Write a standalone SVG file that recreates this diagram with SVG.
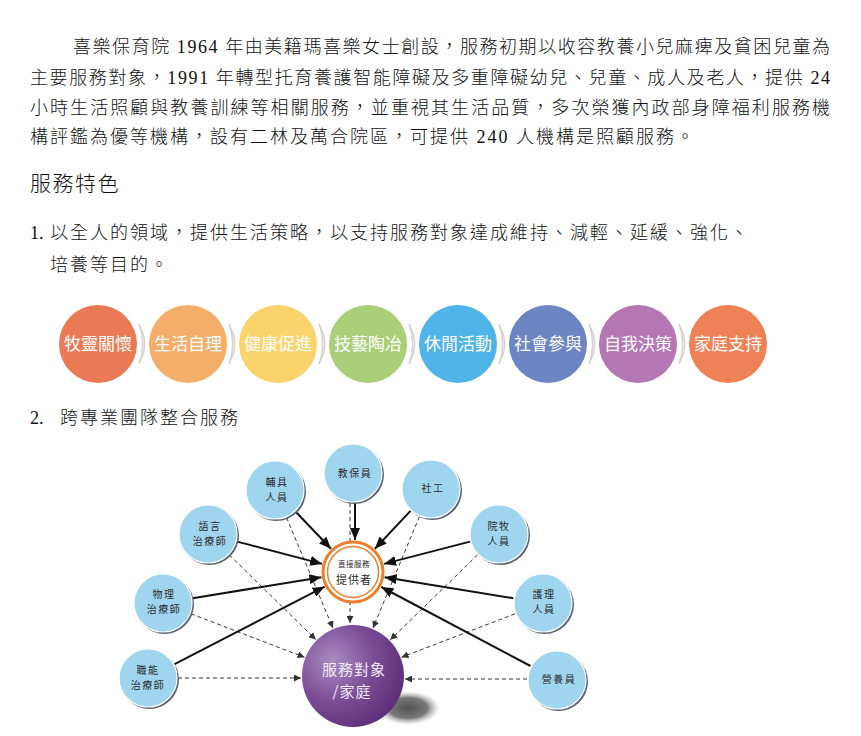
<svg xmlns="http://www.w3.org/2000/svg" width="861" height="736" viewBox="0 0 861 736">
<style>
.para{font-family:"Liberation Serif","Noto Sans CJK TC",serif;font-size:18px;fill:#111;font-weight:300}
.sp{letter-spacing:2px}
.pill{font-family:"Noto Sans CJK TC",sans-serif;font-size:17px;fill:#fff;text-anchor:middle}
.nd{fill:#a0d5ef;stroke:#fff;stroke-width:1.2}
.ndsh{fill:#5a6675}
.nt{font-family:"Noto Sans CJK TC",serif;font-size:10px;fill:#2b2b2b;text-anchor:middle;letter-spacing:1.5px}
.solid{stroke:#111;stroke-width:2;fill:none}
.dash{stroke:#333;stroke-width:1;fill:none;stroke-dasharray:4 3}
.chev{fill:#e6e6e6;stroke:#c4c4c4;stroke-width:0.8}
</style>
<defs>
<marker id="ah" markerUnits="userSpaceOnUse" markerWidth="13" markerHeight="10" refX="12" refY="5" orient="auto"><path d="M0,0 L12,5 L0,10 Z" fill="#111"/></marker>
<marker id="ahs" markerUnits="userSpaceOnUse" markerWidth="8" markerHeight="7" refX="7" refY="3.5" orient="auto"><path d="M0,0 L7,3.5 L0,7 Z" fill="#333"/></marker>
<radialGradient id="sph" cx="0.3" cy="0.35" r="0.8"><stop offset="0" stop-color="#a98bbf"/><stop offset="0.5" stop-color="#7b4d97"/><stop offset="1" stop-color="#5a2a74"/></radialGradient>
<radialGradient id="shd" cx="0.5" cy="0.5" r="0.5"><stop offset="0" stop-color="#555"/><stop offset="0.6" stop-color="#777"/><stop offset="1" stop-color="#bbb" stop-opacity="0"/></radialGradient>
</defs>
<rect width="861" height="736" fill="#fff"/>

<g id="intro">
<text class="para" x="73" y="53" textLength="757" lengthAdjust="spacing">喜樂保育院 1964 年由美籍瑪喜樂女士創設，服務初期以收容教養小兒麻痺及貧困兒童為</text>
<text class="para" x="30" y="84" textLength="800" lengthAdjust="spacing">主要服務對象，1991 年轉型托育養護智能障礙及多重障礙幼兒、兒童、成人及老人，提供 24</text>
<text class="para" x="30" y="114" textLength="800" lengthAdjust="spacing">小時生活照顧與教養訓練等相關服務，並重視其生活品質，多次榮獲內政部身障福利服務機</text>
<text class="para sp" x="30" y="143">構評鑑為優等機構，設有二林及萬合院區，可提供 240 人機構是照顧服務。</text>
<text class="para" x="30" y="191" style="font-size:21px;letter-spacing:1.5px">服務特色</text>
<text class="para" x="30" y="239">1.</text>
<text class="para sp" x="50" y="239">以全人的領域，提供生活策略，以支持服務對象達成維持、減輕、延緩、強化、</text>
<text class="para sp" x="50" y="271">培養等目的。</text>
<text class="para" x="30" y="424">2.</text>
<text class="para sp" x="60" y="424">跨專業團隊整合服務</text>
</g>

<g id="features">
<g id="f1"><circle cx="98" cy="344" r="39" fill="#ea7a55"/><text class="pill" x="98" y="350">牧靈關懷</text></g>
<path class="chev" d="M139,324 Q151,344 139,364 Q146,344 139,324 Z"/>
<g id="f2"><circle cx="188" cy="344" r="39" fill="#f4ae6a"/><text class="pill" x="188" y="350">生活自理</text></g>
<path class="chev" d="M229,324 Q241,344 229,364 Q236,344 229,324 Z"/>
<g id="f3"><circle cx="278" cy="344" r="39" fill="#fbd36c"/><text class="pill" x="278" y="350">健康促進</text></g>
<path class="chev" d="M319,324 Q331,344 319,364 Q326,344 319,324 Z"/>
<g id="f4"><circle cx="368" cy="344" r="39" fill="#a9cf78"/><text class="pill" x="368" y="350">技藝陶冶</text></g>
<path class="chev" d="M409,324 Q421,344 409,364 Q416,344 409,324 Z"/>
<g id="f5"><circle cx="458" cy="344" r="39" fill="#4fb4e8"/><text class="pill" x="458" y="350">休閒活動</text></g>
<path class="chev" d="M499,324 Q511,344 499,364 Q506,344 499,324 Z"/>
<g id="f6"><circle cx="548" cy="344" r="39" fill="#6d86c3"/><text class="pill" x="548" y="350">社會參與</text></g>
<path class="chev" d="M589,324 Q601,344 589,364 Q596,344 589,324 Z"/>
<g id="f7"><circle cx="638" cy="344" r="39" fill="#b476b5"/><text class="pill" x="638" y="350">自我決策</text></g>
<path class="chev" d="M679,324 Q691,344 679,364 Q686,344 679,324 Z"/>
<g id="f8"><circle cx="728" cy="344" r="39" fill="#ee8155"/><text class="pill" x="728" y="350">家庭支持</text></g>
</g>

<g id="connectors">
<line class="dash" x1="350" y1="503" x2="350" y2="623" marker-end="url(#ahs)"/>
<line class="dash" x1="286.6" y1="517.7" x2="332.9" y2="628.1" marker-end="url(#ahs)"/>
<line class="dash" x1="419.4" y1="516.7" x2="373" y2="628" marker-end="url(#ahs)"/>
<line class="dash" x1="229.4" y1="555" x2="315.8" y2="639.6" marker-end="url(#ahs)"/>
<line class="dash" x1="477.5" y1="554.9" x2="390.3" y2="639.8" marker-end="url(#ahs)"/>
<line class="dash" x1="191" y1="613.8" x2="304.5" y2="657.3" marker-end="url(#ahs)"/>
<line class="dash" x1="515" y1="613.8" x2="401.5" y2="657.3" marker-end="url(#ahs)"/>
<line class="dash" x1="178" y1="678" x2="301" y2="678" marker-end="url(#ahs)"/>
<line class="dash" x1="527" y1="679" x2="405" y2="679" marker-end="url(#ahs)"/>
<line class="solid" x1="355" y1="503" x2="355" y2="540" marker-end="url(#ah)"/>
<line class="solid" x1="295.7" y1="511.7" x2="331" y2="548.8" marker-end="url(#ah)"/>
<line class="solid" x1="410.5" y1="510.9" x2="374.9" y2="548.7" marker-end="url(#ah)"/>
<line class="solid" x1="237" y1="541.6" x2="322.1" y2="563.9" marker-end="url(#ah)"/>
<line class="solid" x1="470" y1="541.6" x2="384" y2="563.9" marker-end="url(#ah)"/>
<line class="solid" x1="192.6" y1="598.2" x2="321.4" y2="577.2" marker-end="url(#ah)"/>
<line class="solid" x1="513.4" y1="598.2" x2="384.6" y2="577.2" marker-end="url(#ah)"/>
<line class="solid" x1="174.6" y1="664.2" x2="324.6" y2="586.7" marker-end="url(#ah)"/>
<line class="solid" x1="530.5" y1="666" x2="381.3" y2="587" marker-end="url(#ah)"/>
</g>

<g id="provider">
<circle cx="353" cy="572" r="30" fill="#fff" stroke="#ee7d2c" stroke-width="3"/>
<circle cx="353" cy="572" r="25.5" fill="none" stroke="#ee7d2c" stroke-width="1.5"/>
<text class="nt" x="354" y="567" style="font-size:7.5px;letter-spacing:0.5px">直接服務</text>
<text class="nt" x="354" y="584" style="font-size:11px;letter-spacing:1px">提供者</text>
</g>

<g id="client">
<ellipse cx="408" cy="708" rx="32" ry="17" fill="url(#shd)"/>
<circle cx="353" cy="676" r="51" fill="url(#sph)"/>
<text class="nt" x="354" y="675" style="font-size:15px;fill:#f3eaf6;letter-spacing:1px">服務對象</text>
<text class="nt" x="352" y="697" style="font-size:15px;fill:#f3eaf6;letter-spacing:1px">/家庭</text>
</g>

<g id="n-jiaobao"><circle class="ndsh" cx="354.5" cy="474.5" r="29.5"/><circle class="nd" cx="353" cy="473" r="29"/><text class="nt" x="355" y="477">教保員</text></g>
<g id="n-fuju"><circle class="ndsh" cx="276.5" cy="491.5" r="29.5"/><circle class="nd" cx="275" cy="490" r="29"/><text class="nt" x="277" y="486">輔具</text><text class="nt" x="277" y="501">人員</text></g>
<g id="n-shegong"><circle class="ndsh" cx="432.5" cy="490.5" r="29.5"/><circle class="nd" cx="431" cy="489" r="29"/><text class="nt" x="433" y="492">社工</text></g>
<g id="n-yuyan"><circle class="ndsh" cx="209.5" cy="535.5" r="29.5"/><circle class="nd" cx="208" cy="534" r="29"/><text class="nt" x="210" y="530">語言</text><text class="nt" x="210" y="545">治療師</text></g>
<g id="n-yuanmu"><circle class="ndsh" cx="500.5" cy="535.5" r="29.5"/><circle class="nd" cx="499" cy="534" r="29"/><text class="nt" x="499" y="530">院牧</text><text class="nt" x="499" y="545">人員</text></g>
<g id="n-wuli"><circle class="ndsh" cx="164.5" cy="604.5" r="29.5"/><circle class="nd" cx="163" cy="603" r="29"/><text class="nt" x="164" y="598">物理</text><text class="nt" x="164" y="613">治療師</text></g>
<g id="n-huli"><circle class="ndsh" cx="544.5" cy="604.5" r="29.5"/><circle class="nd" cx="543" cy="603" r="29"/><text class="nt" x="544" y="598">護理</text><text class="nt" x="544" y="613">人員</text></g>
<g id="n-zhineng"><circle class="ndsh" cx="149.5" cy="679.5" r="29.5"/><circle class="nd" cx="148" cy="678" r="29"/><text class="nt" x="148" y="674">職能</text><text class="nt" x="148" y="689">治療師</text></g>
<g id="n-yingyang"><circle class="ndsh" cx="558.5" cy="681.5" r="29.5"/><circle class="nd" cx="557" cy="680" r="29"/><text class="nt" x="559" y="683">營養員</text></g>
</svg>
